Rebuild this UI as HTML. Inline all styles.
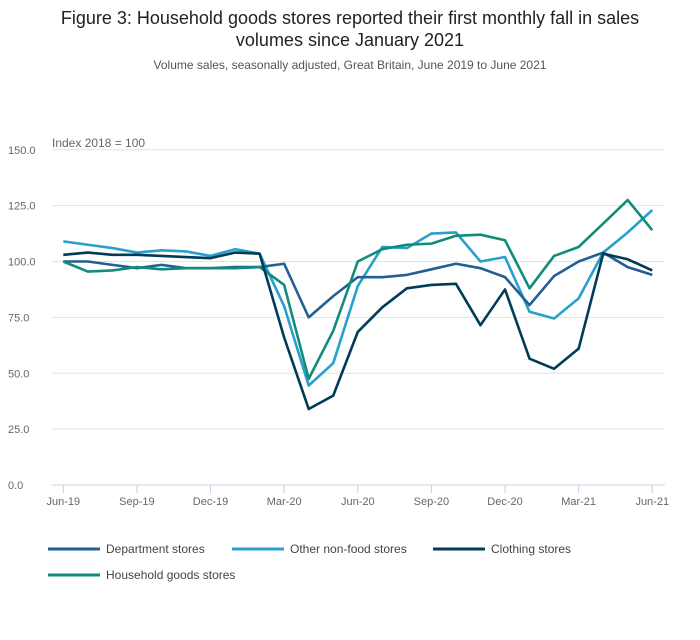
<!DOCTYPE html>
<html><head><meta charset="utf-8"><style>
body{margin:0;background:#fff;font-family:"Liberation Sans",sans-serif;}
svg text{font-family:"Liberation Sans",sans-serif;}
</style></head><body>
<svg width="700" height="635" xmlns="http://www.w3.org/2000/svg">
<text x="350" y="24" text-anchor="middle" font-size="18" fill="#222">Figure 3: Household goods stores reported their first monthly fall in sales</text>
<text x="350" y="46" text-anchor="middle" font-size="18" fill="#222">volumes since January 2021</text>
<text x="350" y="69" text-anchor="middle" font-size="12" fill="#555">Volume sales, seasonally adjusted, Great Britain, June 2019 to June 2021</text>
<text x="52" y="147" font-size="12" fill="#666">Index 2018 = 100</text>
<g id="grid"></g><g id="series"></g><g id="legend"></g>
</svg>
<script>
const categories=["Jun-19","Jul-19","Aug-19","Sep-19","Oct-19","Nov-19","Dec-19","Jan-20","Feb-20","Mar-20","Apr-20","May-20","Jun-20","Jul-20","Aug-20","Sep-20","Oct-20","Nov-20","Dec-20","Jan-21","Feb-21","Mar-21","Apr-21","May-21","Jun-21"];
const xTickLabels=["Jun-19","Sep-19","Dec-19","Mar-20","Jun-20","Sep-20","Dec-20","Mar-21","Jun-21"];
const yTicks=[0,25,50,75,100,125,150];
const department=[100,100,98.5,97,98.5,97,97,97.5,97.5,99,75,84.5,93,93,94,96.5,99,97,93,80.5,93.5,100,104,97.5,94];
const otherNonFood=[109,107.5,106,104,105,104.5,102.5,105.5,103.5,80,44.5,54.5,89,106.5,106,112.5,113,100,102,77.5,74.5,83.5,104,113,123];
const clothing=[103,104,103,103,102.5,102,101.5,104,103.5,66,34,40,68.5,79.5,88,89.5,90,71.5,87.5,56.5,52,61,103.5,101,96];
const household=[100,95.5,96,97.5,96.5,97,97,97,97.5,89.5,47.5,69,100,105.5,107.5,108,111.5,112,109.5,88,102.5,106.5,117,127.5,114];
const seriesNames=["Department stores","Other non-food stores","Clothing stores","Household goods stores"];
const NS="http://www.w3.org/2000/svg";
const x=i=>63.3+i*24.54;
const y=v=>485-v*2.235;
function mk(t,a,p){const e=document.createElementNS(NS,t);for(const k in a)e.setAttribute(k,a[k]);p.appendChild(e);return e;}
const grid=document.getElementById('grid');
yTicks.forEach(v=>{
 const l=mk('line',{x1:52,x2:665,y1:y(v),y2:y(v),stroke:v===0?'#c8d0e0':'#e2e2e2','stroke-width':1},grid);
 
 
 const t=mk('text',{x:8,y:y(v)+4,'font-size':11,fill:'#666'},grid);t.textContent=v.toFixed(1);
 
 
});
xTickLabels.forEach(lab=>{
 const i=categories.indexOf(lab);
 const tk=mk('line',{x1:x(i),x2:x(i),y1:485,y2:493,stroke:'#c8d0e0'},grid);
 
 
 const t=mk('text',{x:x(i),y:505,'font-size':11,fill:'#666','text-anchor':'middle'},grid);t.textContent=lab;
 
 
});
const data=[department,otherNonFood,clothing,household];
const colors=["#206095","#27a0cc","#003c57","#118c7b"];
const order=[1,0,3,2];
const sg=document.getElementById('series');
order.forEach(k=>{
 const p=mk('polyline',{points:data[k].map((v,i)=>x(i)+','+y(v)).join(' '),fill:'none',stroke:colors[k],'stroke-width':2.6,'stroke-linejoin':'round'},sg);
 
 
});
const lg=document.getElementById('legend');
const lpos=[[48,549],[232,549],[433,549],[48,575]];
seriesNames.forEach((n,k)=>{
 const g=mk('g',{},lg);
 
 
 mk('line',{x1:lpos[k][0],x2:lpos[k][0]+52,y1:lpos[k][1],y2:lpos[k][1],stroke:colors[k],'stroke-width':3},g);
 const t=mk('text',{x:lpos[k][0]+58,y:lpos[k][1]+4,'font-size':12,fill:'#444'},g);t.textContent=n;
});
</script>
</body></html>
